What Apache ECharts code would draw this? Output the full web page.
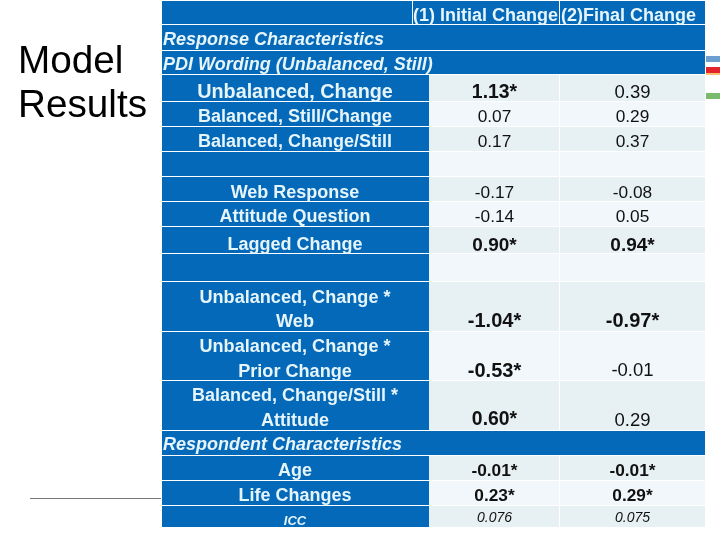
<!DOCTYPE html>
<html>
<head>
<meta charset="utf-8">
<title>Model Results</title>
<style>
  html, body { margin: 0; padding: 0; background: #fff; }
  #main { width: 720px; height: 540px; }
</style>
<script src="https://cdn.jsdelivr.net/npm/echarts@6/dist/echarts.min.js"></script>
</head>
<body>
<div id="main"></div>
<script>
// table contents
const rowLabels = [
  '', 'Response Characteristics', 'PDI Wording (Unbalanced, Still)',
  'Unbalanced, Change', 'Balanced, Still/Change', 'Balanced, Change/Still', '',
  'Web Response', 'Attitude Question', 'Lagged Change', '',
  'Unbalanced, Change *\nWeb', 'Unbalanced, Change *\nPrior Change',
  'Balanced, Change/Still *\nAttitude', 'Respondent Characteristics',
  'Age', 'Life Changes', 'ICC'
]
const initialChange = [
  '(1) Initial Change', '', '', '1.13*', '0.07', '0.17', '',
  '-0.17', '-0.14', '0.90*', '', '-1.04*', '-0.53*', '0.60*', '',
  '-0.01*', '0.23*', '0.076'
]
const finalChange = [
  '(2)Final Change', '', '', '0.39', '0.29', '0.37', '',
  '-0.08', '0.05', '0.94*', '', '-0.97*', '-0.01', '0.29', '',
  '-0.01*', '0.29*', '0.075'
]

// layout, kept apart from the data. y axis runs in page pixels
const rowEdges = [1, 25, 51, 75, 102, 127, 152, 177, 202, 227, 254, 282, 332, 381, 431, 456, 481, 506, 528]
const colEdges = [162, 429, 560, 705]
const headEdges = [162, 413, 560, 705]
const sectionRows = [1, 2, 14]
const labelFont = [18, 18, 18, 19.8, 18, 18, 18, 18, 18, 18, 18, 18.1, 18.1, 18, 18, 18, 18, 13]
const valueFont = [18, 17, 17, 18.5, 17.3, 17.3, 17, 17.3, 17.3, 17.5, 17, 18.5, 18.5, 18.5, 17, 16.5, 16.5, 14]
const starFont = [18, 17, 17, 19.4, 17, 17, 17, 17, 17, 19, 17, 20, 20, 19.4, 17, 17.3, 17.3, 14]
const rowNudge = [3.5, 0, 0, 4.5, 3, 3, 0, 3.5, 2.5, 5, 0, 0, 0, 0, 0, 2.5, 2.5, 4]
const BLUE = '#0569b9'
const TEXT_LIGHT = '#e6f5fa'

const cellData = []
rowLabels.forEach((label, r) => {
  if (sectionRows.includes(r)) {
    cellData.push([r, -1])
  } else {
    cellData.push([r, 0], [r, 1], [r, 2])
  }
})

function cellText (r, c) {
  if (c === -1 || c === 0) return rowLabels[r]
  return c === 1 ? initialChange[r] : finalChange[r]
}

function renderCell (params, api) {
  const r = api.value(0)
  const c = api.value(1)
  const edges = r === 0 ? headEdges : colEdges
  const x0 = c === -1 ? edges[0] : edges[c]
  const x1 = c === -1 ? edges[3] : edges[c + 1]
  const tl = api.coord([x0, rowEdges[r]])
  const br = api.coord([x1, rowEdges[r + 1]])
  const isBlue = c <= 0 || r === 0
  const fill = isBlue ? BLUE : (r % 2 === 1 ? '#e7f1f4' : '#f1f7fb')
  const kids = [{
    type: 'rect',
    shape: {
      x: tl[0],
      y: tl[1],
      width: br[0] - tl[0] - (c === 1 || (r === 0 && c === 0) ? 1 : 0),
      height: br[1] - tl[1] - 1
    },
    style: { fill }
  }]
  const text = cellText(r, c)
  if (text) {
    const lines = text.split('\n')
    const midY = (tl[1] + br[1]) / 2
    const italic = c === -1 || r === 17
    const starred = text.includes('*')
    const color = isBlue ? TEXT_LIGHT : '#111'
    const weight = isBlue || starred ? 'bold' : 'normal'
    let size = labelFont[r]
    if (c > 0 && r > 0) size = starred ? starFont[r] : valueFont[r]
    const font = `${italic ? 'italic ' : ''}${weight} ${size}px "Liberation Sans"`
    if (c === -1) {
      kids.push({
        type: 'text',
        z2: 10,
        style: { text, x: tl[0] + 1, y: midY + 2, fill: color, font, align: 'left', verticalAlign: 'middle' }
      })
    } else if (lines.length > 1) {
      lines.forEach((line, i) => {
        kids.push({
          type: 'text',
          z2: 10,
          style: { text: line, x: 295, y: midY - 9.5 + i * 24.5, fill: color, font, align: 'center', verticalAlign: 'middle' }
        })
      })
    } else {
      const cx = r === 0 ? (c === 1 ? 485.5 : 628.5) : (c === 0 ? 295 : c === 1 ? 494.5 : 632.5)
      let y = midY + rowNudge[r]
      if (c > 0 && rowLabels[r].includes('\n')) y = midY + (r === 13 && starred ? 13.5 : 14.5)
      if (r === 17 && c > 0) y = midY + 1
      kids.push({
        type: 'text',
        z2: 10,
        style: { text, x: cx, y, fill: color, font, align: 'center', verticalAlign: 'middle' }
      })
    }
  }
  return { type: 'group', children: kids }
}

const chart = echarts.init(document.getElementById('main'), null, { renderer: 'canvas' })
chart.setOption({
  animation: false,
  backgroundColor: '#fff',
  title: {
    text: 'Model\nResults',
    left: 13,
    top: 35,
    textStyle: { fontFamily: 'Liberation Sans', fontSize: 38.7, fontWeight: 'normal', color: '#000', lineHeight: 44 }
  },
  grid: { left: 0, top: 0, right: 0, bottom: 0 },
  xAxis: { type: 'value', min: 0, max: 720, show: false },
  yAxis: { type: 'value', min: 0, max: 540, inverse: true, show: false },
  series: [{
    type: 'custom',
    coordinateSystem: 'cartesian2d',
    silent: true,
    clip: false,
    renderItem: renderCell,
    data: cellData
  }],
  // the rule below the title and the cut off logo at the right edge
  graphic: [
    { type: 'rect', shape: { x: 30, y: 498, width: 131, height: 1 }, style: { fill: '#777' } },
    { type: 'rect', shape: { x: 706, y: 56, width: 14, height: 6 }, style: { fill: '#6c9fd0' } },
    { type: 'rect', shape: { x: 706, y: 67, width: 14, height: 6 }, style: { fill: '#e3242b' } },
    { type: 'rect', shape: { x: 706, y: 73, width: 14, height: 2 }, style: { fill: '#f8c070' } },
    { type: 'rect', shape: { x: 706, y: 93, width: 14, height: 6 }, style: { fill: '#79bb6c' } }
  ]
})
</script>
</body>
</html>
